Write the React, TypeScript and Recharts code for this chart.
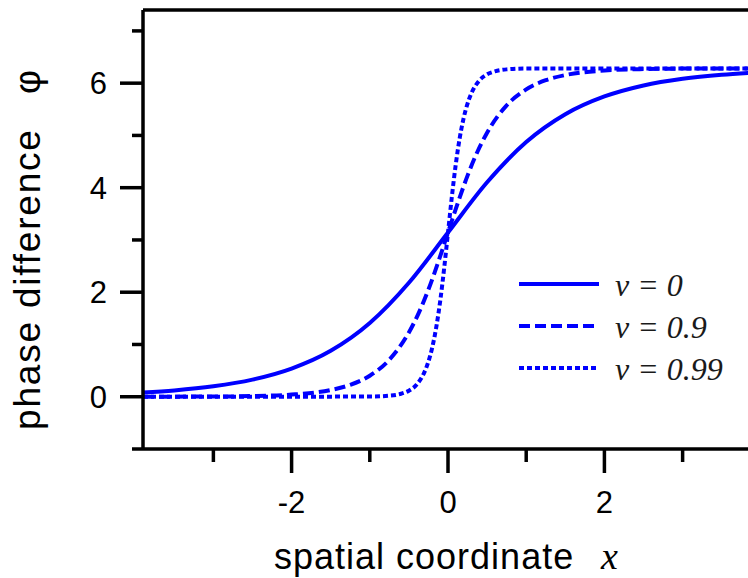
import { Label, Legend, Line, LineChart, ReferenceLine, XAxis, YAxis } from 'recharts';

// phase difference, one small table per velocity
const xV0 = [-3.9, -3.5, -3, -2.5, -2, -1.5, -1, -0.5, 0, 0.5, 1, 1.5, 2, 2.5, 3, 3.5, 3.9];
const phiV0 = [0.081, 0.121, 0.199, 0.327, 0.538, 0.878, 1.41, 2.18, 3.142, 4.103, 4.873, 5.405, 5.745, 5.956, 6.084, 6.162, 6.202];

const xV09 = [-3.9, -3, -2.5, -2, -1.5, -1.25, -1, -0.75, -0.5, -0.375, -0.25, -0.125, 0, 0.125, 0.25, 0.375, 0.5, 0.75, 1, 1.25, 1.5, 2, 2.5, 3, 3.9];
const phiV09 = [0.001, 0.004, 0.013, 0.041, 0.128, 0.227, 0.402, 0.708, 1.231, 1.6, 2.052, 2.577, 3.142, 3.706, 4.231, 4.683, 5.052, 5.575, 5.881, 6.056, 6.155, 6.242, 6.27, 6.279, 6.283];

const xV099 = [-3.9, -1, -0.75, -0.6, -0.5, -0.4, -0.3, -0.25, -0.2, -0.15, -0.1, -0.05, 0, 0.05, 0.1, 0.15, 0.2, 0.25, 0.3, 0.4, 0.5, 0.6, 0.75, 1, 3.9];
const phiV099 = [0, 0.003, 0.02, 0.057, 0.116, 0.234, 0.475, 0.674, 0.951, 1.331, 1.829, 2.447, 3.142, 3.836, 4.454, 4.952, 5.332, 5.61, 5.809, 6.049, 6.168, 6.226, 6.264, 6.28, 6.283];

const xTicks = [-3, -2, -1, 0, 1, 2, 3];
const xMajor = [-2, 0, 2];
const yTicks = [-1, 0, 1, 2, 3, 4, 5, 6, 7];
const yMajor = [0, 2, 4, 6];

const legendItems = [
  { label: 'ν = 0', dash: undefined },
  { label: 'ν = 0.9', dash: '11 5' },
  { label: 'ν = 0.99', dash: '5 3' },
];

const zip = (xs: number[], ys: number[]) => xs.map((x, i) => ({ x, phi: ys[i] }));

const BLUE = '#0000ff';
const SANS = '"Liberation Sans", Arial, sans-serif';
const SERIF = '"Liberation Serif", "Times New Roman", serif';

const XTick = (props: any) => {
  const { x, y, payload } = props;
  const major = xMajor.includes(payload.value);
  return (
    <g>
      <line x1={x} y1={y} x2={x} y2={y + (major ? 24 : 13)} stroke="#000" strokeWidth={3.5} />
      {major && (
        <text x={x} y={y + 64} textAnchor="middle" fontSize={31} fontFamily={SANS} fill="#000">
          {payload.value}
        </text>
      )}
    </g>
  );
};

const YTick = (props: any) => {
  const { x, y, payload } = props;
  const major = yMajor.includes(payload.value);
  return (
    <g>
      <line x1={x} y1={y} x2={x - (major ? 23 : 11)} y2={y} stroke="#000" strokeWidth={3.5} />
      {major && (
        <text x={x - 36} y={y + 11} textAnchor="end" fontSize={31} fontFamily={SANS} fill="#000">
          {payload.value}
        </text>
      )}
    </g>
  );
};

const LegendBox = () => (
  <svg width={240} height={125}>
    {legendItems.map((item, i) => (
      <g key={item.label}>
        <line x1={4} y1={22 + i * 42} x2={84} y2={22 + i * 42} stroke={BLUE} strokeWidth={4} strokeDasharray={item.dash} />
        <text x={100} y={34 + i * 42} fontSize={32} fontStyle="italic" fontFamily={SERIF} fill="#1a1a1a" style={{ whiteSpace: 'pre' }}>
          {item.label}
        </text>
      </g>
    ))}
  </svg>
);

export default function App() {
  return (
    <div style={{ position: 'absolute', left: 0, top: 0, width: 748, height: 578, overflow: 'hidden', background: '#fff' }}>
      <LineChart width={770} height={578} margin={{ top: 10, right: 17, left: 0, bottom: 0 }}>
        <XAxis
          dataKey="x"
          type="number"
          domain={[-3.9, 3.9]}
          allowDataOverflow
          ticks={xTicks}
          interval={0}
          tickSize={0}
          tickMargin={0}
          tick={XTick}
          height={129}
          axisLine={{ stroke: '#000', strokeWidth: 3.5 }}
        >
          <Label
            content={() => (
              <g>
                <text x={274} y={569} fontSize={36} letterSpacing={1} fontFamily={SANS} fill="#000">
                  spatial coordinate
                </text>
                <text x={601} y={569} fontSize={38} fontFamily={SERIF} fontStyle="italic" fill="#000">
                  x
                </text>
              </g>
            )}
          />
        </XAxis>
        <YAxis
          type="number"
          domain={[-1, 7.4]}
          allowDataOverflow
          ticks={yTicks}
          interval={0}
          tickSize={0}
          tickMargin={0}
          tick={YTick}
          width={143}
          axisLine={{ stroke: '#000', strokeWidth: 3.5 }}
        >
          <Label
            content={() => (
              <g>
                <text x={40} y={430} transform="rotate(-90 40 430)" fontSize={37} letterSpacing={1.8} fontFamily={SANS} fill="#000">
                  phase difference
                </text>
                <text x={40} y={94} transform="rotate(-90 40 94)" fontSize={37} fontFamily={SANS} fill="#000">
                  φ
                </text>
              </g>
            )}
          />
        </YAxis>
        <ReferenceLine y={7.4} stroke="#000" strokeWidth={3.5} />
        <Legend
          layout="vertical"
          align="center"
          verticalAlign="middle"
          content={LegendBox}
          wrapperStyle={{ left: 515, top: 262, width: 240, height: 125 }}
        />
        <Line data={zip(xV0, phiV0)} dataKey="phi" type="monotone" stroke={BLUE} strokeWidth={4} dot={false} isAnimationActive={false} />
        <Line data={zip(xV09, phiV09)} dataKey="phi" type="monotone" stroke={BLUE} strokeWidth={4} strokeDasharray="11 5" dot={false} isAnimationActive={false} />
        <Line data={zip(xV099, phiV099)} dataKey="phi" type="monotone" stroke={BLUE} strokeWidth={4} strokeDasharray="5 3" dot={false} isAnimationActive={false} />
      </LineChart>
    </div>
  );
}
